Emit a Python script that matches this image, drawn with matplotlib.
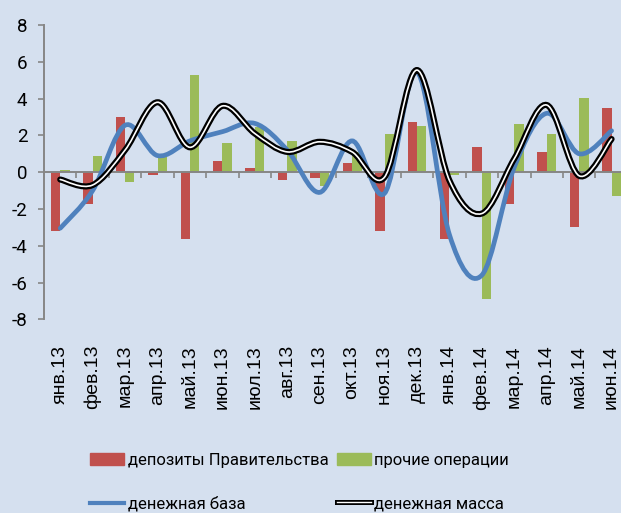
import numpy as np
import matplotlib
matplotlib.use('Agg')
import matplotlib.pyplot as plt
import matplotlib.patheffects as pe
from matplotlib.path import Path
from matplotlib.patches import PathPatch, Patch
from matplotlib.lines import Line2D

# --- данные (месячные изменения, %) ---
months = ['янв.13', 'фев.13', 'мар.13', 'апр.13', 'май.13', 'июн.13',
          'июл.13', 'авг.13', 'сен.13', 'окт.13', 'ноя.13', 'дек.13',
          'янв.14', 'фев.14', 'мар.14', 'апр.14', 'май.14', 'июн.14']
gov_deposits = [-3.2, -1.75, 3.0, -0.13, -3.65, 0.62, 0.24, -0.45, -0.33,
                0.5, -3.2, 2.7, -3.65, 1.38, -1.75, 1.1, -3.0, 3.47]
other_ops = [0.13, 0.9, -0.55, 0.8, 5.3, 1.56, 2.44, 1.67, -0.73,
             1.1, 2.05, 2.53, -0.15, -6.9, 2.62, 2.05, 4.05, -1.3]
money_base = [-3.05, -1.0, 2.55, 0.9, 1.7, 2.2, 2.65, 1.2, -1.1,
              1.7, -1.15, 5.45, -3.4, -5.6, 0.27, 3.2, 1.0, 2.25]
money_supply = [-0.4, -0.7, 1.2, 3.8, 1.35, 3.6, 2.1, 1.1, 1.65,
                1.1, -0.27, 5.55, -0.45, -2.25, 0.73, 3.65, -0.2, 1.8]

BG = '#D5E0EF'
RED = '#C0504D'
GREEN = '#9BBB59'
BLUE = '#4F81BD'
GRAY = '#868686'

plt.rcParams['axes.unicode_minus'] = False
NARROW = ['Roboto', 'DejaVu Sans']


def smooth_path(xs, ys):
    """Сглаженная линия как в Excel (кривые Безье через точки)."""
    pts = np.column_stack([xs, ys]).astype(float)
    n = len(pts)
    verts = [pts[0]]
    codes = [Path.MOVETO]
    for i in range(n - 1):
        p0 = pts[max(i - 1, 0)]
        p1 = pts[i]
        p2 = pts[i + 1]
        p3 = pts[min(i + 2, n - 1)]
        verts += [p1 + (p2 - p0) / 6, p2 - (p3 - p1) / 6, p2]
        codes += [Path.CURVE4] * 3
    return Path(verts, codes)


fig = plt.figure(figsize=(6.21, 5.13), dpi=100, facecolor=BG)
ax = fig.add_axes([44 / 621, 1 - 319.3 / 513, 577 / 621, 294.3 / 513])
ax.set_facecolor(BG)

x = np.arange(len(months))
bw = 0.29
ax.bar(x - bw / 2, gov_deposits, bw, color=RED, zorder=2)
ax.bar(x + bw / 2, other_ops, bw, color=GREEN, zorder=2)

ax.add_patch(PathPatch(smooth_path(x, money_base), fill=False, edgecolor=BLUE,
                       lw=3.4, capstyle='round', zorder=3))
double = [pe.Stroke(linewidth=4.4, foreground='black'), pe.Normal()]
ax.add_patch(PathPatch(smooth_path(x, money_supply), fill=False, edgecolor='white',
                       lw=1.2, capstyle='round', zorder=4, path_effects=double))

ax.set_xlim(-0.5, 17.29)
ax.set_ylim(-8, 8)
ax.set_yticks(np.arange(-8, 9, 2))
for lab in ax.get_yticklabels():
    lab.set_family(NARROW)
ax.tick_params(axis='y', length=4, color=GRAY, width=1.2, labelsize=13.5, pad=8)

# ось X на нуле с делениями между категориями
ax.spines['top'].set_visible(False)
ax.spines['right'].set_visible(False)
ax.spines['left'].set_color(GRAY)
ax.spines['left'].set_linewidth(1.4)
ax.spines['bottom'].set_position(('data', 0))
ax.spines['bottom'].set_color(GRAY)
ax.spines['bottom'].set_linewidth(1.4)
ax.spines['bottom'].set_zorder(2.5)
ax.set_xticks([])
ax.set_xticks(np.arange(0.5, 17, 1), minor=True)
ax.tick_params(axis='x', which='minor', length=4.5, width=1.2, color=GRAY)

# подписи месяцев внизу области построения
sec = ax.secondary_xaxis('bottom')
sec.set_xticks(x, months, rotation=90, family='Liberation Sans', fontsize=14)
sec.tick_params(length=0, pad=18.5)
sec.spines['bottom'].set_visible(False)

handles = [
    Patch(color=RED, label='депозиты Правительства'),
    Line2D([], [], color=BLUE, lw=3, label='денежная база'),
    Patch(color=GREEN, label='прочие операции'),
    Line2D([], [], color='white', lw=1.0, label='денежная масса',
           path_effects=[pe.Stroke(linewidth=3.6, foreground='black'), pe.Normal()]),
]
fig.legend(handles=handles, ncol=2, loc='upper left',
           bbox_to_anchor=(90 / 621, 1 - 453 / 513), frameon=False,
           prop={'family': NARROW, 'size': 12}, borderpad=0, borderaxespad=0,
           handlelength=2.05, handleheight=0.75, handletextpad=0.2,
           columnspacing=0.5, labelspacing=1.7)

fig.savefig('out.png', dpi=100, facecolor=BG)
